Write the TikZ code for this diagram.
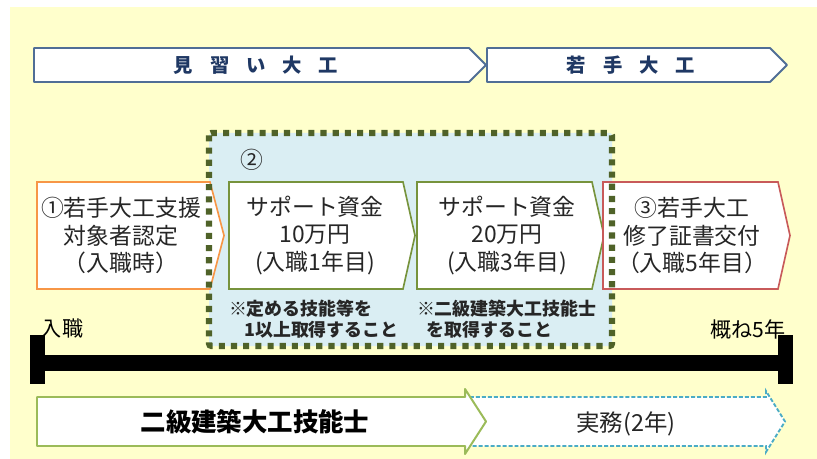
\documentclass[tikz,border=0pt]{standalone}
\usepackage{fontspec}
\setmainfont{Noto Sans CJK JP}
\usepackage{tikz}
\definecolor{bgyellow}{RGB}{255,255,204}
\definecolor{topblue}{RGB}{80,110,150}
\definecolor{navytext}{RGB}{31,56,100}
\definecolor{paleblue}{RGB}{218,238,243}
\definecolor{olivedot}{RGB}{79,98,40}
\definecolor{orangeline}{RGB}{247,150,70}
\definecolor{greenline}{RGB}{119,147,60}
\definecolor{redline}{RGB}{200,90,90}
\definecolor{lightgreen}{RGB}{155,187,89}
\definecolor{dashblue}{RGB}{75,172,198}
\definecolor{textgray}{RGB}{38,38,38}
\tikzset{
    every node/.style={inner sep=0pt, outer sep=0pt, text=textgray}
}
\tikzset{
    phase/.style={draw=topblue, fill=white, line width=1.6pt, line join=round},
    phaselabel/.style={font=\bfseries\fontsize{16.5pt}{16.5pt}\selectfont,
    	text=navytext},
    stagebox/.style={fill=white, line width=1.4pt},
    stagetext/.style={align=center, font=\fontsize{19.5pt}{23.4pt}\selectfont},
    notetext/.style={align=left, anchor=west,
    	font=\bfseries\fontsize{15.3pt}{17.9pt}\selectfont},
    dotframe/.style={draw=olivedot, line width=5.2pt,
    	dash pattern=on 5.2pt off 5.2pt, rounded corners=2pt},
    barlabel/.style={font=\fontsize{18pt}{18pt}\selectfont, text=black}
}

\begin{document}
\begin{tikzpicture}[x=0.03cm, y=-0.03cm]
	\useasboundingbox (0,0) rectangle (817,459);
	\fill[bgyellow] (10,7) rectangle (817,459);

	\draw[phase] (34,48) -- (469,48) -- (486,65) -- (469,82) -- (34,82) -- cycle;
	\draw[phase] (487,48) -- (770,48) -- (787,65) -- (770,82) -- (487,82) -- cycle;
	\node (trainee) [phaselabel] at (256,65) {見\hspace{14.5pt}習\hspace{14.5pt}い\hspace{14.5pt}大\hspace{14.5pt}工};
	\node (young) [phaselabel] at (631,65) {若\hspace{14.5pt}手\hspace{14.5pt}大\hspace{14.5pt}工};

	\fill[paleblue, rounded corners=2pt] (209,133) rectangle (612,346);

	\draw[stagebox, draw=orangeline] (37,182) -- (210,182) -- (224,235.5) -- (210,289) -- (37,289) -- cycle;
	\draw[stagebox, draw=greenline] (229,182) -- (403,182) -- (415,235.5) -- (403,289) -- (229,289) -- cycle;
	\draw[stagebox, draw=greenline] (417,182) -- (592,182) -- (604,235.5) -- (592,289) -- (417,289) -- cycle;
	\draw[stagebox, draw=redline] (603,182) -- (778,182) -- (790,235.5) -- (778,289) -- (603,289) -- cycle;
	\draw[dotframe] (209,133) rectangle (612,346);

	\node (two) [stagetext] at (252,160) {②};
	\node (entry) [stagetext] at (121,235.5) {①若手大工支援\\対象者認定\\（入職時）};
	\node (fund1) [stagetext] at (315,235.5) {サポート資金\\10万円\\(入職1年目)};
	\node (fund3) [stagetext] at (507,235.5) {サポート資金\\20万円\\(入職3年目)};
	\node (finish) [stagetext] at (692,235.5) {③若手大工\\修了証書交付\\（入職5年目）};

	\node (note1) [notetext] at (229,319.5) {※定める技能等を\\\hspace{0.85em}1以上取得すること};
	\node (note3) [notetext] at (417,319.5) {※二級建築大工技能士\\\hspace{0.55em}を取得すること};

	\node (start) [barlabel] at (62,328) {入職};
	\node (end) [barlabel] at (748,329) {概ね5年};
	\draw[line width=13.6pt] (33,363) -- (793,363);
	\fill (30,335) rectangle (45,384);
	\fill (778,335) rectangle (793,384);

	\draw[fill=white, draw=dashblue, line width=1.6pt, dash pattern=on 3.4pt off 1.7pt]
		(470,397) -- (766,397) -- (766,391) -- (785,421.5) -- (766,452) -- (766,446) -- (470,446) -- cycle;
	\draw[fill=white, draw=lightgreen, line width=1.7pt, line join=round]
		(37,397) -- (465,397) -- (465,389) -- (486,421.5) -- (465,454) -- (465,446) -- (37,446) -- cycle;
	\node (skill) [font=\bfseries\fontsize{21.7pt}{21.7pt}\selectfont, text=black] at (255,422) {二級建築大工技能士};
	\node (practice) [font=\fontsize{20pt}{20pt}\selectfont] at (626,424) {実務(2年)};
\end{tikzpicture}
\end{document}
